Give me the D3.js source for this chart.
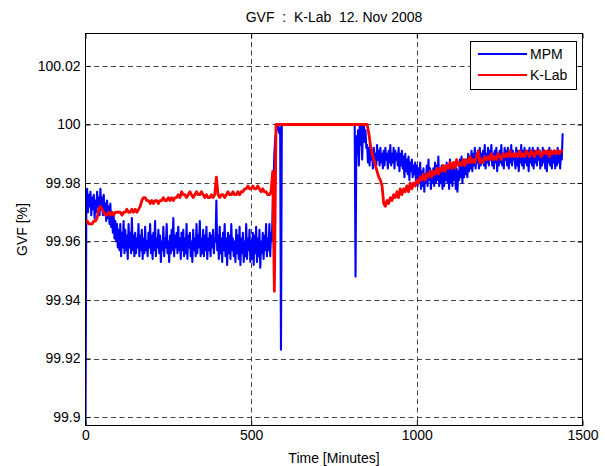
<!DOCTYPE html>
<html><head><meta charset="utf-8">
<script src="https://cdn.jsdelivr.net/npm/d3@7"></script>
<style>
body{margin:0;background:#fff;}
text{font-family:"Liberation Sans",Arial,Helvetica,sans-serif;fill:#000;}
</style>
</head><body>
<svg id="chart" width="605" height="466"></svg>
<script>
const chartTitle = "GVF  :  K-Lab  12. Nov 2008";
const xLabel = "Time [Minutes]";
const yLabel = "GVF [%]";
const xTicks = [0, 500, 1000, 1500];
const yTicks = [99.9, 99.92, 99.94, 99.96, 99.98, 100, 100.02];
const yTickLabels = ["99.9", "99.92", "99.94", "99.96", "99.98", "100", "100.02"];
const seriesNames = ["MPM", "K-Lab"];
const seriesColors = ["#0000ff", "#ff0000"];
const mpmStepMinutes = 2.5;   // MPM sample interval, starting at 0
const klabStepMinutes = 5;    // K-Lab sample interval, starting at 0

// MPM GVF [%], rows of 20 samples (row k starts at 50*k minutes)
const mpm = [
  99.897, 99.974, 99.978, 99.970, 99.976, 99.972, 99.977, 99.969, 99.975, 99.971, 99.976, 99.968, 99.974, 99.970, 99.977, 99.972, 99.975, 99.969, 99.978, 99.971,
  99.975, 99.969, 99.976, 99.970, 99.973, 99.967, 99.974, 99.968, 99.972, 99.966, 99.973, 99.965, 99.970, 99.963, 99.969, 99.961, 99.967, 99.960, 99.966, 99.958,
  99.964, 99.957, 99.966, 99.955, 99.963, 99.958, 99.967, 99.956, 99.964, 99.957, 99.962, 99.954, 99.966, 99.958, 99.963, 99.956, 99.968, 99.957, 99.962, 99.955,
  99.963, 99.956, 99.961, 99.958, 99.966, 99.955, 99.962, 99.957, 99.964, 99.954, 99.961, 99.956, 99.965, 99.957, 99.960, 99.955, 99.963, 99.958, 99.966, 99.956,
  99.962, 99.954, 99.963, 99.957, 99.967, 99.955, 99.961, 99.958, 99.964, 99.956, 99.962, 99.953, 99.960, 99.957, 99.965, 99.955, 99.961, 99.958, 99.966, 99.956,
  99.960, 99.953, 99.962, 99.956, 99.964, 99.957, 99.968, 99.955, 99.962, 99.958, 99.963, 99.956, 99.965, 99.957, 99.961, 99.954, 99.963, 99.957, 99.964, 99.955,
  99.961, 99.956, 99.966, 99.954, 99.962, 99.958, 99.963, 99.955, 99.960, 99.953, 99.964, 99.957, 99.961, 99.955, 99.966, 99.956, 99.962, 99.958, 99.967, 99.955,
  99.961, 99.956, 99.964, 99.955, 99.962, 99.957, 99.965, 99.954, 99.961, 99.957, 99.963, 99.955, 99.962, 99.958, 99.964, 99.956, 99.961, 99.960, 99.974, 99.957,
  99.962, 99.954, 99.965, 99.956, 99.961, 99.953, 99.963, 99.957, 99.966, 99.955, 99.961, 99.952, 99.963, 99.956, 99.962, 99.954, 99.966, 99.957, 99.961, 99.955,
  99.960, 99.953, 99.964, 99.956, 99.962, 99.954, 99.965, 99.952, 99.961, 99.956, 99.963, 99.953, 99.960, 99.955, 99.966, 99.954, 99.961, 99.957, 99.964, 99.953,
  99.960, 99.954, 99.963, 99.952, 99.962, 99.956, 99.965, 99.953, 99.961, 99.955, 99.964, 99.951, 99.960, 99.956, 99.963, 99.954, 99.962, 99.957, 99.966, 99.955,
  99.961, 99.957, 99.966, 99.955, 99.963, 99.960, 99.972, 99.980, 99.990, 99.995, 99.997, 100.000, 100.000, 99.998, 99.997, 99.999, 99.923, 100.000, 100.000, 100.000,
  100.000, 100.000, 100.000, 100.000, 100.000, 100.000, 100.000, 100.000, 100.000, 100.000, 100.000, 100.000, 100.000, 100.000, 100.000, 100.000, 100.000, 100.000, 100.000, 100.000,
  100.000, 100.000, 100.000, 100.000, 100.000, 100.000, 100.000, 100.000, 100.000, 100.000, 100.000, 100.000, 100.000, 100.000, 100.000, 100.000, 100.000, 100.000, 100.000, 100.000,
  100.000, 100.000, 100.000, 100.000, 100.000, 100.000, 100.000, 100.000, 100.000, 100.000, 100.000, 100.000, 100.000, 100.000, 100.000, 100.000, 100.000, 100.000, 100.000, 100.000,
  100.000, 100.000, 100.000, 100.000, 100.000, 100.000, 100.000, 100.000, 100.000, 100.000, 100.000, 100.000, 100.000, 100.000, 100.000, 100.000, 100.000, 100.000, 100.000, 100.000,
  100.000, 100.000, 100.000, 100.000, 100.000, 100.000, 99.948, 99.996, 99.990, 99.998, 99.986, 100.000, 99.993, 100.000, 99.988, 99.999, 100.000, 99.994, 99.998, 99.992,
  99.993, 99.987, 99.992, 99.986, 99.993, 99.988, 99.991, 99.985, 99.992, 99.987, 99.990, 99.986, 99.993, 99.988, 99.991, 99.986, 99.992, 99.987, 99.990, 99.985,
  99.991, 99.986, 99.992, 99.988, 99.990, 99.985, 99.991, 99.987, 99.993, 99.986, 99.990, 99.987, 99.992, 99.985, 99.991, 99.988, 99.990, 99.986, 99.992, 99.984,
  99.990, 99.986, 99.991, 99.985, 99.989, 99.982, 99.990, 99.984, 99.988, 99.983, 99.989, 99.981, 99.987, 99.984, 99.988, 99.982, 99.986, 99.983, 99.987, 99.980,
  99.986, 99.979, 99.985, 99.980, 99.987, 99.978, 99.984, 99.979, 99.985, 99.977, 99.983, 99.980, 99.986, 99.979, 99.988, 99.981, 99.985, 99.978, 99.984, 99.980,
  99.985, 99.979, 99.987, 99.980, 99.986, 99.981, 99.989, 99.979, 99.984, 99.980, 99.986, 99.978, 99.985, 99.979, 99.984, 99.981, 99.987, 99.980, 99.985, 99.978,
  99.988, 99.980, 99.985, 99.979, 99.986, 99.981, 99.987, 99.978, 99.985, 99.977, 99.984, 99.981, 99.988, 99.982, 99.989, 99.980, 99.986, 99.982, 99.988, 99.983,
  99.987, 99.982, 99.990, 99.984, 99.989, 99.985, 99.991, 99.984, 99.990, 99.986, 99.992, 99.985, 99.990, 99.987, 99.991, 99.985, 99.992, 99.986, 99.990, 99.987,
  99.991, 99.986, 99.993, 99.985, 99.990, 99.987, 99.992, 99.986, 99.991, 99.988, 99.993, 99.986, 99.990, 99.985, 99.991, 99.987, 99.992, 99.984, 99.990, 99.986,
  99.991, 99.987, 99.993, 99.986, 99.990, 99.985, 99.992, 99.988, 99.991, 99.986, 99.992, 99.985, 99.990, 99.987, 99.993, 99.986, 99.991, 99.988, 99.990, 99.985,
  99.992, 99.986, 99.991, 99.984, 99.990, 99.987, 99.993, 99.986, 99.991, 99.985, 99.992, 99.987, 99.990, 99.986, 99.991, 99.984, 99.992, 99.987, 99.990, 99.986,
  99.992, 99.985, 99.991, 99.987, 99.990, 99.986, 99.992, 99.988, 99.991, 99.985, 99.990, 99.986, 99.992, 99.987, 99.991, 99.985, 99.990, 99.984, 99.991, 99.987,
  99.992, 99.986, 99.991, 99.985, 99.990, 99.987, 99.991, 99.985, 99.990, 99.986, 99.992, 99.987, 99.991, 99.985, 99.990, 99.988, 99.997
];

// K-Lab GVF [%], rows of 10 samples (row k starts at 50*k minutes)
const klab = [
  99.967, 99.967, 99.966, 99.966, 99.966, 99.967, 99.967, 99.968, 99.971, 99.972,
  99.971, 99.970, 99.969, 99.969, 99.970, 99.969, 99.970, 99.969, 99.970, 99.970,
  99.970, 99.970, 99.969, 99.970, 99.970, 99.971, 99.970, 99.970, 99.971, 99.970,
  99.971, 99.970, 99.971, 99.972, 99.974, 99.975, 99.975, 99.974, 99.974, 99.973,
  99.974, 99.973, 99.974, 99.974, 99.973, 99.974, 99.974, 99.975, 99.974, 99.974,
  99.975, 99.974, 99.975, 99.974, 99.975, 99.975, 99.976, 99.975, 99.977, 99.976,
  99.976, 99.975, 99.976, 99.977, 99.976, 99.975, 99.976, 99.977, 99.976, 99.976,
  99.977, 99.976, 99.975, 99.976, 99.975, 99.975, 99.976, 99.975, 99.976, 99.982,
  99.976, 99.975, 99.976, 99.976, 99.975, 99.976, 99.977, 99.976, 99.976, 99.977,
  99.976, 99.976, 99.977, 99.976, 99.977, 99.977, 99.978, 99.978, 99.979, 99.978,
  99.978, 99.979, 99.978, 99.978, 99.979, 99.978, 99.977, 99.978, 99.977, 99.977,
  99.976, 99.976, 99.977, 99.984, 99.943, 100.000, 100.000, 100.000, 100.000, 100.000,
  100.000, 100.000, 100.000, 100.000, 100.000, 100.000, 100.000, 100.000, 100.000, 100.000,
  100.000, 100.000, 100.000, 100.000, 100.000, 100.000, 100.000, 100.000, 100.000, 100.000,
  100.000, 100.000, 100.000, 100.000, 100.000, 100.000, 100.000, 100.000, 100.000, 100.000,
  100.000, 100.000, 100.000, 100.000, 100.000, 100.000, 100.000, 100.000, 100.000, 100.000,
  100.000, 100.000, 100.000, 100.000, 100.000, 100.000, 100.000, 100.000, 100.000, 100.000,
  100.000, 99.997, 99.993, 99.990, 99.988, 99.986, 99.984, 99.982, 99.981, 99.979,
  99.973, 99.972, 99.974, 99.973, 99.975, 99.974, 99.976, 99.975, 99.977, 99.975,
  99.978, 99.976, 99.978, 99.977, 99.979, 99.977, 99.980, 99.978, 99.980, 99.979,
  99.981, 99.980, 99.982, 99.981, 99.983, 99.981, 99.983, 99.982, 99.984, 99.982,
  99.984, 99.983, 99.985, 99.983, 99.985, 99.984, 99.986, 99.984, 99.986, 99.985,
  99.987, 99.985, 99.987, 99.985, 99.988, 99.986, 99.987, 99.986, 99.988, 99.986,
  99.988, 99.987, 99.989, 99.987, 99.988, 99.987, 99.989, 99.991, 99.987, 99.988,
  99.987, 99.989, 99.988, 99.989, 99.988, 99.990, 99.988, 99.989, 99.988, 99.990,
  99.989, 99.988, 99.990, 99.989, 99.990, 99.989, 99.991, 99.989, 99.990, 99.989,
  99.990, 99.989, 99.991, 99.989, 99.990, 99.989, 99.991, 99.990, 99.989, 99.991,
  99.990, 99.989, 99.991, 99.990, 99.991, 99.989, 99.990, 99.991, 99.990, 99.991,
  99.989, 99.991, 99.990, 99.991, 99.990, 99.991, 99.990, 99.991, 99.991
];

const series = [
  {values: mpm, step: mpmStepMinutes, width: 2.1},
  {values: klab, step: klabStepMinutes, width: 2.8}
];

const svg = d3.select("#chart");
const plot = {left: 85.5, right: 582.5, top: 33.5, bottom: 425.5};

const x = d3.scaleLinear().domain([0, 1500]).range([plot.left, plot.right]);
const y = d3.scaleLinear().domain([99.8971, 100.0311]).range([plot.bottom, plot.top]);

svg.append("rect").attr("width", 605).attr("height", 466).attr("fill", "#fff");

// grid
const grid = svg.append("g").attr("stroke", "#444").attr("stroke-width", 1)
  .attr("stroke-dasharray", "5,3.5");
xTicks.filter(t => t > 0 && t < 1500).forEach(t => {
  grid.append("line").attr("x1", Math.round(x(t)) + 0.5).attr("x2", Math.round(x(t)) + 0.5)
    .attr("y1", plot.top).attr("y2", plot.bottom);
});
yTicks.forEach(t => {
  grid.append("line").attr("y1", Math.round(y(t)) + 0.5).attr("y2", Math.round(y(t)) + 0.5)
    .attr("x1", plot.left).attr("x2", plot.right);
});

// data
svg.append("clipPath").attr("id", "clip").append("rect")
  .attr("x", plot.left).attr("y", plot.top)
  .attr("width", plot.right - plot.left).attr("height", plot.bottom - plot.top);

series.forEach((s, k) => {
  const line = d3.line()
    .x((d, i) => x(i * s.step))
    .y(d => y(d));
  svg.append("path").datum(s.values)
    .attr("clip-path", "url(#clip)")
    .attr("fill", "none")
    .attr("stroke", seriesColors[k])
    .attr("stroke-width", s.width)
    .attr("stroke-linejoin", "round")
    .attr("d", line);
});

// box
svg.append("rect").attr("x", plot.left).attr("y", plot.top)
  .attr("width", plot.right - plot.left).attr("height", plot.bottom - plot.top)
  .attr("fill", "none").attr("stroke", "#000").attr("stroke-width", 1);

// axes (ticks point inward)
const fontSize = 14;
const axL = svg.append("g").attr("transform", `translate(${plot.left},0)`)
  .call(d3.axisLeft(y).tickValues(yTicks).tickSize(-5).tickPadding(5)
    .tickFormat((d, i) => yTickLabels[i]));
const axR = svg.append("g").attr("transform", `translate(${plot.right},0)`)
  .call(d3.axisRight(y).tickValues(yTicks).tickSize(-5).tickFormat(""));
const axB = svg.append("g").attr("transform", `translate(0,${plot.bottom})`)
  .call(d3.axisBottom(x).tickValues(xTicks).tickSize(-5).tickPadding(5)
    .tickFormat(d3.format("d")));
const axT = svg.append("g").attr("transform", `translate(0,${plot.top})`)
  .call(d3.axisTop(x).tickValues(xTicks).tickSize(-5).tickFormat(""));
[axL, axR, axB, axT].forEach(a => {
  a.select(".domain").remove();
  a.selectAll("line").attr("stroke", "#000");
  a.selectAll("text").attr("font-size", fontSize)
    .attr("font-family", '"Liberation Sans",Arial,sans-serif').attr("fill", "#000");
});

// title and labels
svg.append("text").attr("x", (plot.left + plot.right) / 2).attr("y", 22)
  .attr("text-anchor", "middle").attr("font-size", fontSize)
  .style("white-space", "pre").text(chartTitle);
svg.append("text").attr("x", (plot.left + plot.right) / 2).attr("y", 463)
  .attr("text-anchor", "middle").attr("font-size", fontSize).text(xLabel);
svg.append("text")
  .attr("transform", `translate(27,${(plot.top + plot.bottom) / 2}) rotate(-90)`)
  .attr("text-anchor", "middle").attr("font-size", fontSize).text(yLabel);

// legend
const lg = svg.append("g");
lg.append("rect").attr("x", 470.5).attr("y", 41.5).attr("width", 106).attr("height", 48)
  .attr("fill", "#fff").attr("stroke", "#000").attr("stroke-width", 1);
seriesNames.forEach((name, k) => {
  const yy = 54 + k * 21;
  lg.append("line").attr("x1", 478).attr("x2", 527).attr("y1", yy).attr("y2", yy)
    .attr("stroke", seriesColors[k]).attr("stroke-width", 2);
  lg.append("text").attr("x", 530).attr("y", yy + 5).attr("font-size", fontSize).text(name);
});
</script>
</body></html>
